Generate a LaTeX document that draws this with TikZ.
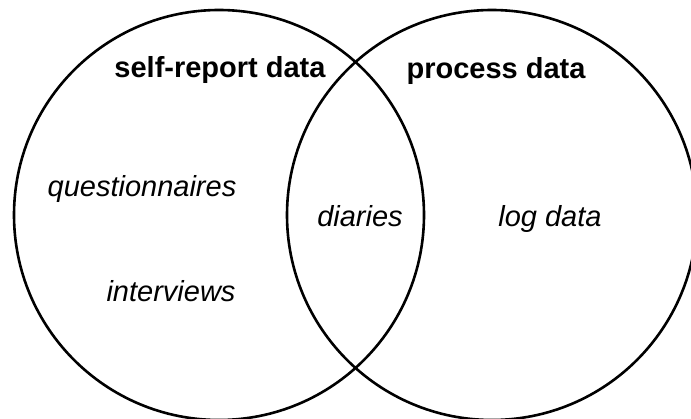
\documentclass[tikz,border=0pt]{standalone}
\usepackage{fontspec}
\setmainfont{Liberation Sans}
\begin{document}
\begin{tikzpicture}[x=1pt,y=1pt,
  ring/.style={draw=black,line width=2.6pt},
  title/.style={font=\fontsize{29}{34}\selectfont\bfseries,anchor=base,inner sep=0pt},
  item/.style={font=\fontsize{29}{34}\selectfont\itshape,anchor=base,inner sep=0pt}]
\useasboundingbox (0,0) rectangle (691,-419);
\begin{scope}
\clip (0,0) rectangle (691,-419);
\node[ring,circle,minimum size=410pt,inner sep=0pt] (selfc) at (219,-215) {};
\node[ring,circle,minimum size=410pt,inner sep=0pt] (procc) at (492,-215) {};
\end{scope}
\node[title] (self) at (220,-78) {self-report data};
\node[title] (proc) at (496,-79) {process data};
\node[item] (quest) at (142,-197) {questionnaires};
\node[item] (inter) at (171,-302) {interviews};
\node[item] (diar) at (360,-227) {diaries};
\node[item] (logd) at (550,-227) {log data};
\end{tikzpicture}
\end{document}
